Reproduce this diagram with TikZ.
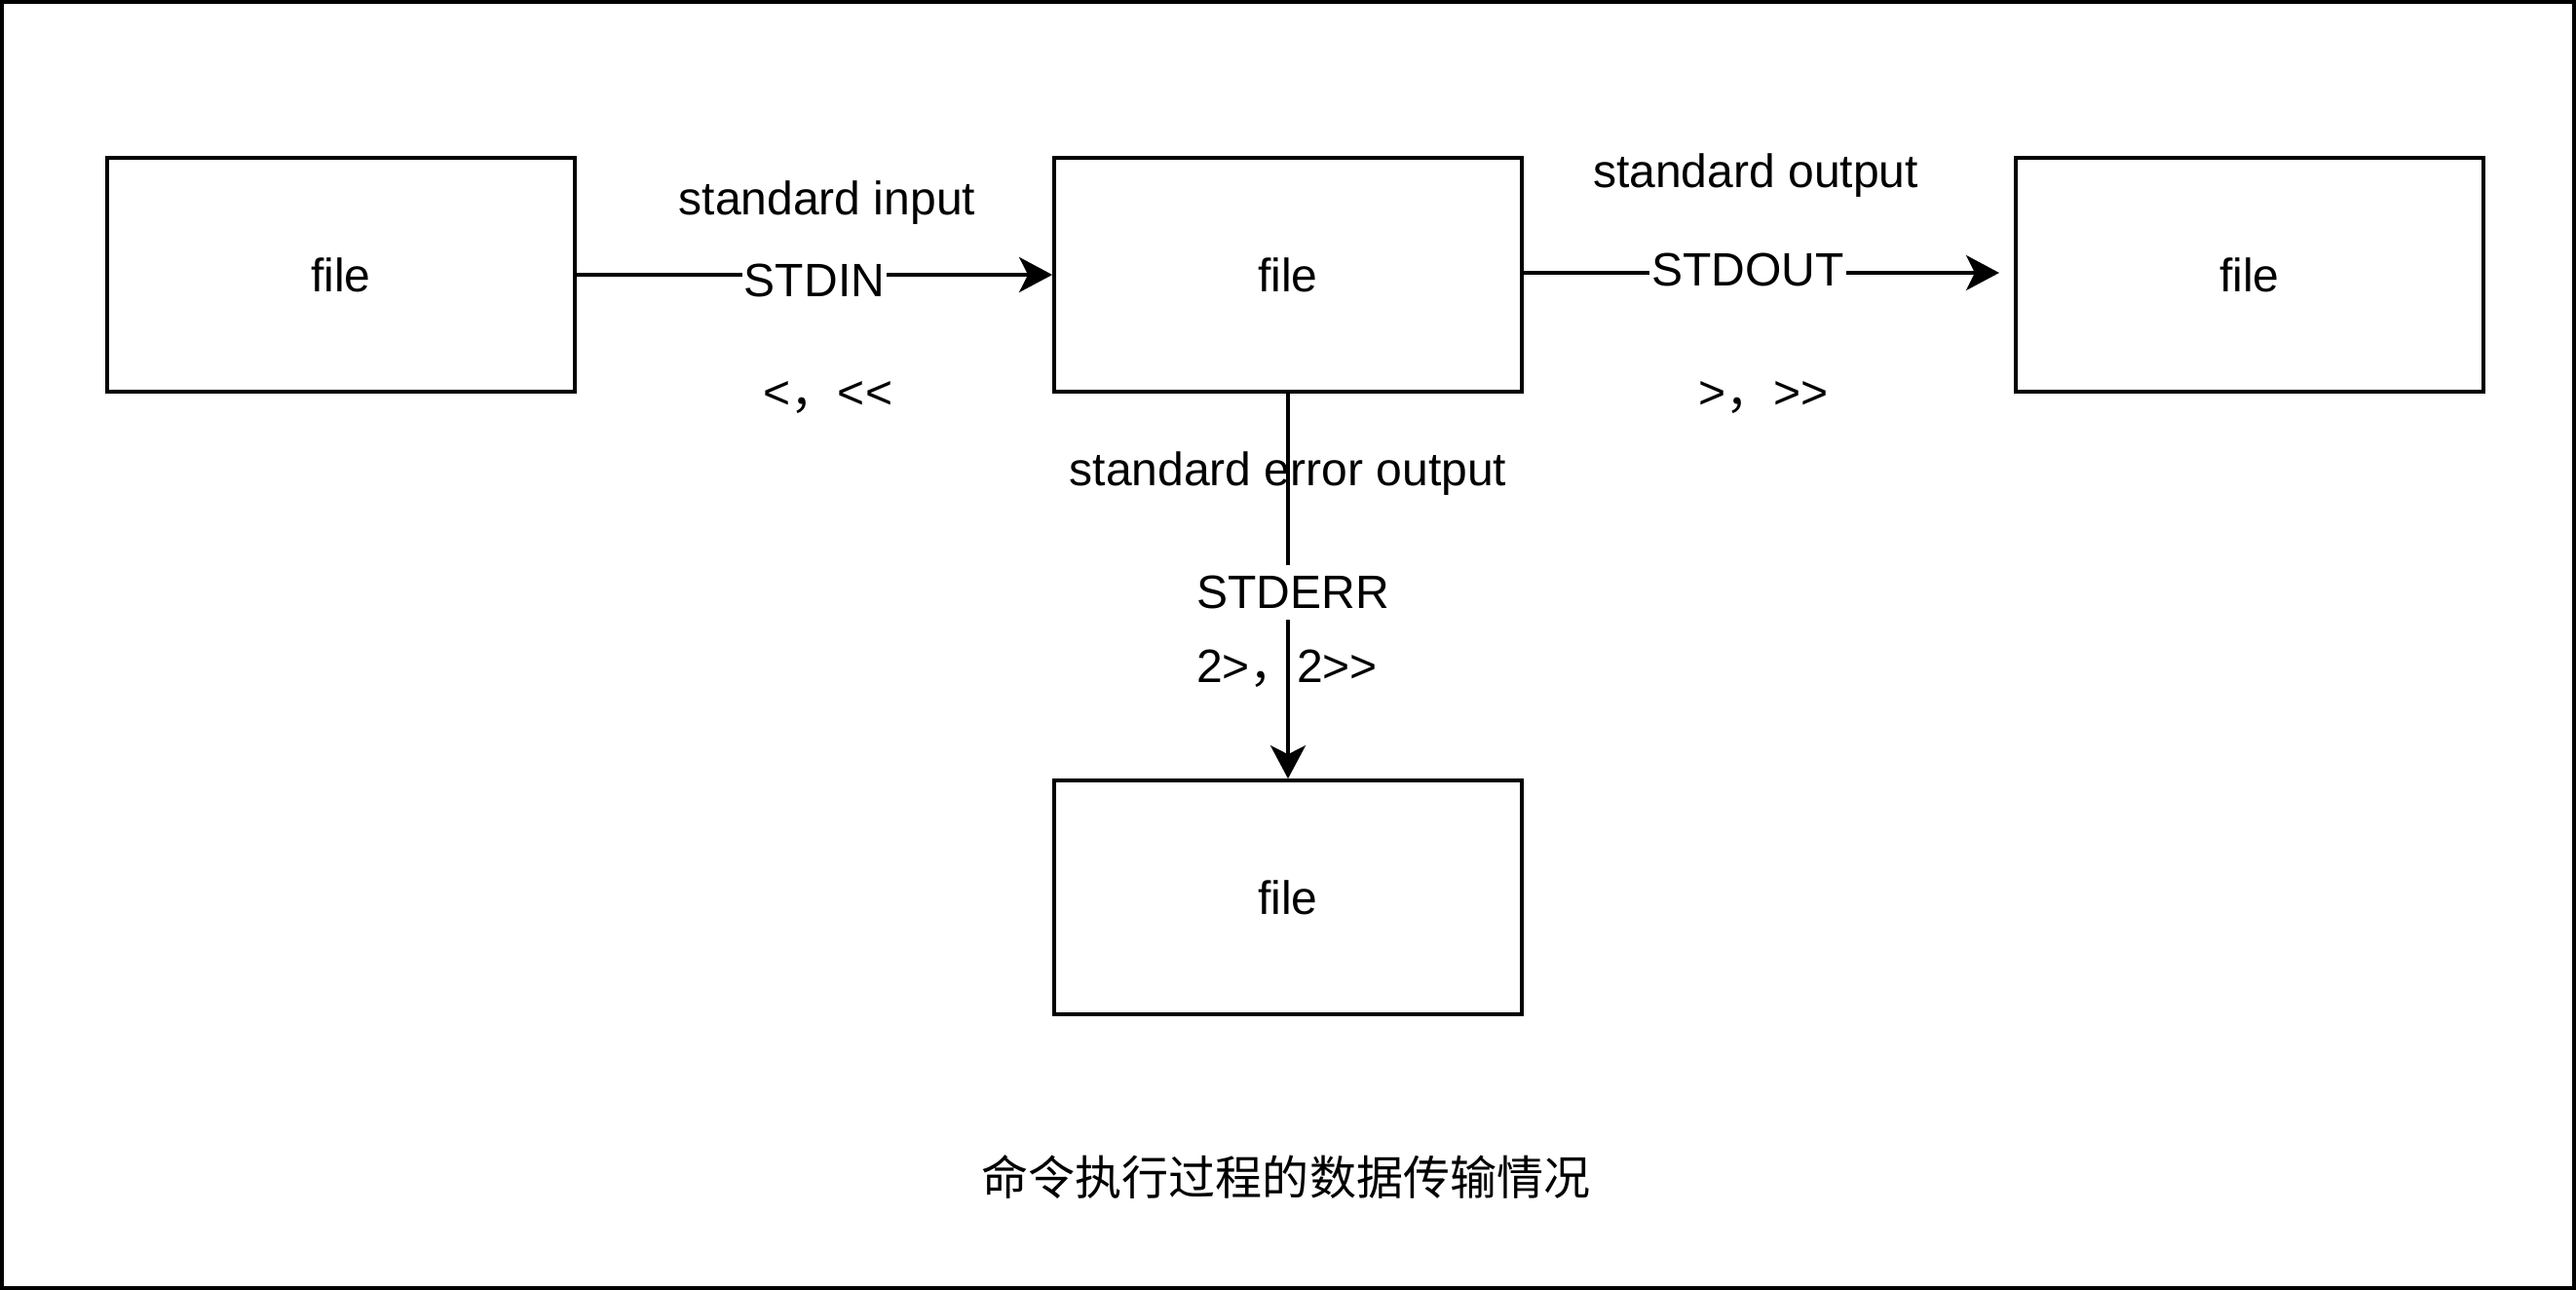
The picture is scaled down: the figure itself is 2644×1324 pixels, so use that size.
\documentclass[tikz,border=0pt]{standalone}
\usepackage{fontspec}
\setmainfont{Liberation Sans}
\newfontfamily\cjk{Noto Sans CJK SC}
\usetikzlibrary{arrows.meta}

\begin{document}
\begin{tikzpicture}[x=0.01cm, y=-0.01cm, line width=1pt,
    every node/.style={font=\fontsize{13.66pt}{16.4pt}\selectfont},
    filebox/.style={draw, minimum width=4.8cm, minimum height=2.4cm},
    flow/.style={-{Stealth[length=0.34cm, width=0.36cm, inset=0.09cm]}},
    onlbl/.style={fill=white, inner xsep=0.02cm, inner ysep=0.11cm}]
    \useasboundingbox (0,0) rectangle (2644,1324);
    \draw[line width=1.1pt] (2,2) rectangle (2642,1322);

    % the four files
    \node[filebox] (src) at (350,282) {file};
    \node[filebox] (cmd) at (1322,282) {file};
    \node[filebox] (dst) at (2309,282) {file};
    \node[filebox] (err) at (1322,921) {file};
    \coordinate (outEnd) at (2052,280);

    % streams
    \draw[flow] (src) -- node[onlbl, yshift=-0.06cm] {STDIN} (cmd);
    \draw[flow] (cmd.east |- outEnd) -- node[onlbl, pos=0.471, yshift=0.035cm] {STDOUT} (outEnd);
    \node[anchor=base] (errTxt) at (1322,498) {standard error output};
    \draw[flow] (cmd) -- node[onlbl, pos=0.516, xshift=0.05cm] {STDERR} (err);

    \node[anchor=base] (inTxt) at (849,220) {standard input};
    \node[anchor=base] (inOps) at (850,419) {<{\cjk ，}<\kern0pt<};
    \node[anchor=base] (outTxt) at (1802,192) {standard output};
    \node[anchor=base] (outOps) at (1810,419) {>{\cjk ，}>\kern0pt>};
    \node[anchor=base] (errOps) at (1321,700) {2>{\cjk ，}2>\kern0pt>};

    \node (title) at (1320,1208) {\cjk 命令执行过程的数据传输情况};
\end{tikzpicture}
\end{document}
